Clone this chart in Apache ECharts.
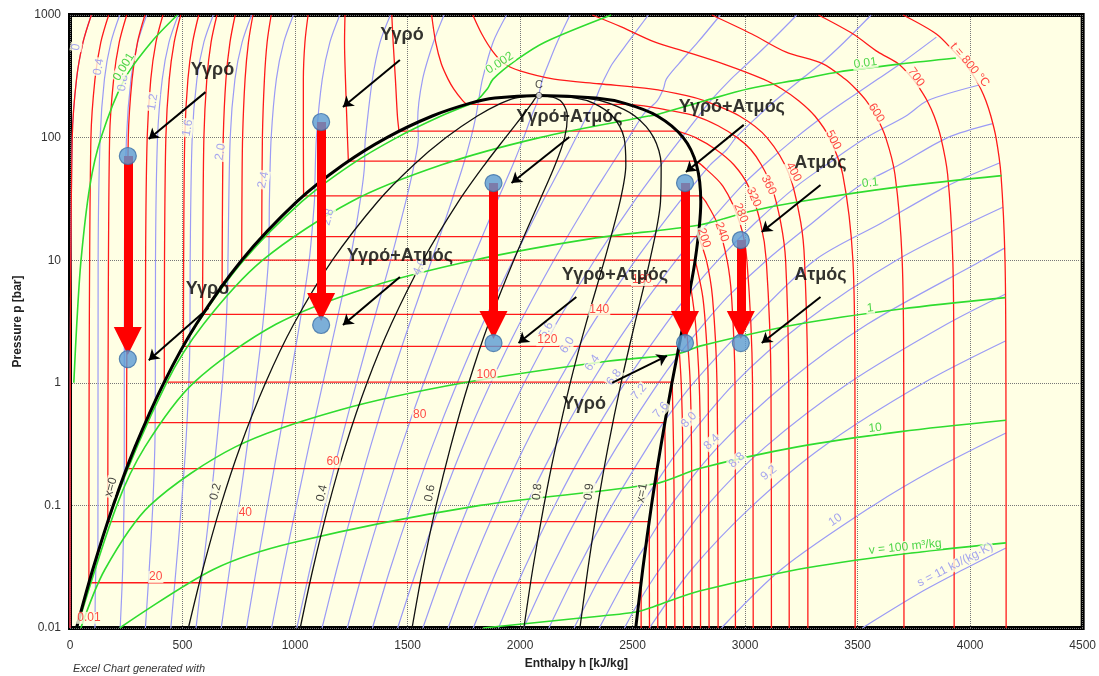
<!DOCTYPE html>
<html lang="el">
<head>
<meta charset="utf-8">
<script src="https://cdn.jsdelivr.net/npm/echarts@6/dist/echarts.min.js"></script>
<style>
  * { margin: 0; padding: 0; }
  body { background: #fff; }
</style>
</head>
<body>
<div id="main" style="width:1099px;height:676px;"></div>
<script>
// p-h diagram of water: points are [h kJ/kg, p bar]

// saturation dome (x=0 up to C, then x=1 down)
var dome = [[29,0.01],[101,0.03],[192,0.1],[289,0.3],[417,1],[561,3],[763,10],[1008,30],[1214,60],[1408,100],[1610,150],[1776,190],[1888,210],[2084,220.6],
            [2338,210],[2466,190],[2610,150],[2725,100],[2784,60],[2803,30],[2778,10],[2725,3],[2675,1],[2625,0.3],[2584,0.1],[2545,0.03],[2514,0.01]];
var critical = [2084, 220.6];

// quality lines
var x02 = [[526,0.01],[590,0.03],[670,0.1],[756,0.3],[869,1],[994,3],[1166,10],[1367,30],[1528,60],[1671,100],[1810,150],[1914,190],[1978,210],[2084,220.6]];
var x04 = [[1023,0.01],[1079,0.03],[1149,0.1],[1223,0.3],[1320,1],[1427,3],[1569,10],[1726,30],[1842,60],[1935,100],[2010,150],[2052,190],[2068,210],[2084,220.6]];
var x06 = [[1520,0.01],[1567,0.03],[1627,0.1],[1691,0.3],[1772,1],[1859,3],[1972,10],[2085,30],[2156,60],[2198,100],[2210,150],[2190,190],[2158,210],[2084,220.6]];
var x08 = [[2017,0.01],[2056,0.03],[2106,0.1],[2158,0.3],[2223,1],[2292,3],[2375,10],[2444,30],[2470,60],[2462,100],[2410,150],[2328,190],[2248,210],[2084,220.6]];
var x09 = [[2266,0.01],[2301,0.03],[2345,0.1],[2391,0.3],[2449,1],[2509,3],[2577,10],[2624,30],[2627,60],[2594,100],[2510,150],[2397,190],[2293,210],[2084,220.6]];

// isotherms (liquid / two-phase / vapour pieces)
var t000 = [[[95,1000],[58,600],[29,300],[10,100],[1,1],[0,0.01]]];
var t020 = [[[172,1000],[137,600],[111,300],[93,100],[85,1],[84,0.0234]],[[84,0.0234],[2538,0.0234]],[[2538,0.0234],[2538,0.01]]];
var t040 = [[[252,1000],[219,600],[194,300],[176,100],[169,1],[168,0.0738]],[[168,0.0738],[2574,0.0738]],[[2574,0.0738],[2575,0.01]]];
var t060 = [[[333,1000],[300,600],[276,300],[259,100],[252,1],[251,0.1995]],[[251,0.1995],[2609,0.1995]],[[2609,0.1995],[2611,0.05],[2612,0.01]]];
var t080 = [[[413,1000],[382,600],[359,300],[343,100],[336,10],[335,0.474]],[[335,0.474],[2643,0.474]],[[2643,0.474],[2648,0.1],[2650,0.01]]];
var t100 = [[[492,1000],[463,600],[441,300],[426,100],[420,10],[419,1.014]],[[419,1.014],[2676,1.014]],[[2676,1.014],[2682,0.3],[2686,0.05],[2688,0.01]]];
var t120 = [[[572,1000],[545,600],[524,300],[510,100],[505,10],[504,1.985]],[[504,1.985],[2706,1.985]],[[2706,1.985],[2716,1],[2723,0.3],[2726,0.01]]];
var t140 = [[[653,1000],[627,600],[608,300],[595,100],[590,10],[589,3.614]],[[589,3.614],[2734,3.614]],[[2734,3.614],[2746,2],[2756,1],[2762,0.3],[2764,0.01]]];
var t160 = [[[734,1000],[711,600],[693,300],[681,100],[677,20],[676,6.18]],[[676,6.18],[2758,6.18]],[[2758,6.18],[2780,3],[2796,1],[2801,0.3],[2802,0.01]]];
var t180 = [[[813,1000],[793,600],[778,300],[767,100],[764,30],[763,10.03]],[[763,10.03],[2778,10.03]],[[2778,10.03],[2812,5],[2830,2],[2836,1],[2840,0.01]]];
var t200 = [[[894,1000],[876,600],[864,300],[855,100],[852,15.55]],[[852,15.55],[2793,15.55]],[[2793,15.55],[2828,10],[2855,5],[2875,1],[2880,0.01]]];
var t240 = [[[1058,1000],[1044,600],[1037,300],[1037,100],[1038,33.5]],[[1038,33.5],[2804,33.5]],[[2804,33.5],[2825,30],[2876,20],[2920,10],[2940,5],[2955,1],[2957,0.01]]];
var t280 = [[[1222,1000],[1220,600],[1224,300],[1233,100],[1237,64.2]],[[1237,64.2],[2780,64.2]],[[2780,64.2],[2805,60],[2902,40],[2977,20],[3008,10],[3033,1],[3036,0.01]]];
var t320 = [[[1430,1000],[1436,600],[1446,300],[1455,150],[1462,112.9]],[[1462,112.9],[2701,112.9]],[[2701,112.9],[2780,100],[2870,80],[2950,60],[3015,40],[3069,20],[3094,10],[3115,1],[3117,0.01]]];
var t360 = [[[1607,1000],[1625,600],[1650,400],[1680,300],[1705,250],[1745,200],[1762,186.7]],[[1762,186.7],[2481,186.7]],
            [[2481,186.7],[2565,180],[2640,170],[2780,150],[2880,125],[2965,100],[3025,80],[3072,60],[3118,40],[3159,20],[3180,10],[3194,1],[3196,0.01]]];
var t400 = [[[1790,1000],[1830,700],[1880,500],[1930,400],[2000,350],[2151,300],[2350,275],[2580,250],[2740,220],[2818,200],[2975,150],[3097,100],[3196,50],[3248,20],[3264,10],[3278,1],[3279,0.01]]];
var t500 = [[[2321,1000],[2450,800],[2600,600],[2740,500],[2903,400],[3081,300],[3162,250],[3238,200],[3310,150],[3374,100],[3434,50],[3479,10],[3488,1],[3489,0.01]]];
var t600 = [[[2852,1000],[3030,700],[3180,500],[3346,400],[3444,300],[3491,250],[3538,200],[3582,150],[3625,100],[3666,50],[3698,10],[3705,1],[3706,0.01]]];
var t700 = [[[3326,1000],[3480,700],[3590,500],[3681,400],[3746,300],[3777,250],[3809,200],[3840,150],[3870,100],[3900,50],[3923,10],[3928,1],[3929,0.01]]];
var t800 = [[[3702,1000],[3850,700],[3930,500],[3979,400],[4024,300],[4047,250],[4070,200],[4092,150],[4115,100],[4137,50],[4155,10],[4159,1],[4160,0.01]]];

// isentropes, kJ/(kg K)
var s00 = [[95,1000],[58,600],[29,300],[10,100],[1,1],[0,0.01]];
var s04 = [[221,1000],[182,600],[153,300],[134,100],[125,10],[124,0.041],[115,0.03],[111,0.01]];
var s08 = [[341,1000],[301,600],[271,300],[251,100],[242,10],[241,0.175],[240,0.1],[234,0.03],[223,0.01]];
var s12 = [[481,1000],[440,600],[410,300],[389,100],[380,10],[379,0.71],[377,0.3],[368,0.1],[352,0.03],[335,0.01]];
var s16 = [[637,1000],[595,600],[564,300],[543,100],[534,10],[533,2.4],[528,1],[514,0.3],[495,0.1],[471,0.03],[448,0.01]];
var s20 = [[807,1000],[765,600],[733,300],[712,100],[702,10],[701,7.1],[694,3],[677,1],[650,0.3],[623,0.1],[590,0.03],[560,0.01]];
var s24 = [[993,1000],[950,600],[917,300],[894,100],[886,30],[885,18],[882,10],[857,3],[826,1],[787,0.3],[751,0.1],[709,0.03],[672,0.01]];
var s28 = [[1199,1000],[1155,600],[1121,300],[1095,100],[1088,40],[1086,30],[1063,10],[1020,3],[975,1],[924,0.3],[878,0.1],[828,0.03],[784,0.01]];
var s32 = [[1424,1000],[1378,600],[1344,300],[1313,100],[1310,79],[1309,60],[1289,30],[1244,10],[1182,3],[1124,1],[1061,0.3],[1006,0.1],[947,0.03],[896,0.01]];
var s36 = [[1662,1000],[1615,600],[1567,300],[1545,137],[1548,100],[1529,60],[1492,30],[1425,10],[1345,3],[1273,1],[1198,0.3],[1133,0.1],[1066,0.03],[1008,0.01]];
var s40 = [[1940,1000],[1880,600],[1833,300],[1815,197],[1804,150],[1782,100],[1748,60],[1695,30],[1607,10],[1508,3],[1422,1],[1335,0.3],[1261,0.1],[1185,0.03],[1120,0.01]];
var s44 = [[2222,1000],[2165,600],[2126,400],[2100,300],[2081,215],[2074,190],[2051,150],[2016,100],[1968,60],[1897,30],[1788,10],[1671,3],[1572,1],[1472,0.3],[1389,0.1],[1304,0.03],[1232,0.01]];
var s48 = [[2570,1000],[2480,600],[2410,400],[2374,300],[2354,250],[2338,210],[2328,190],[2297,150],[2249,100],[2187,60],[2100,30],[1969,10],[1833,3],[1721,1],[1609,0.3],[1516,0.1],[1422,0.03],[1344,0.01]];
var s52 = [[2890,1000],[2790,600],[2705,400],[2650,300],[2637,250],[2610,200],[2562,165],[2543,150],[2483,100],[2407,60],[2303,30],[2150,10],[1996,3],[1870,1],[1745,0.3],[1644,0.1],[1541,0.03],[1456,0.01]];
var s56 = [[3230,1000],[3110,600],[3010,400],[2937,300],[2847,200],[2793,150],[2722,102],[2626,60],[2506,30],[2331,10],[2159,3],[2019,1],[1882,0.3],[1771,0.1],[1660,0.03],[1568,0.01]];
var s60 = [[3560,1000],[3440,600],[3336,400],[3250,300],[3133,200],[3058,150],[2959,100],[2919,80],[2845,60],[2797,47],[2709,30],[2513,10],[2321,3],[2168,1],[2019,0.3],[1899,0.1],[1779,0.03],[1680,0.01]];
var s64 = [[3850,660],[3690,400],[3590,300],[3447,200],[3350,150],[3226,100],[3085,60],[2983,40],[2836,20],[2793,16.5],[2694,10],[2484,3],[2317,1],[2156,0.3],[2027,0.1],[1898,0.03],[1792,0.01]];
var s68 = [[4045,270],[3810,200],[3715,150],[3539,100],[3361,60],[3228,40],[3043,20],[2880,10],[2750,5.3],[2647,3],[2466,1],[2293,0.3],[2154,0.1],[2017,0.03],[1904,0.01]];
var s72 = [[4100,130],[3900,100],[3685,60],[3503,40],[3297,20],[3096,10],[2921,5],[2815,3],[2695,1.6],[2615,1],[2430,0.3],[2282,0.1],[2136,0.03],[2016,0.01]];
var s76 = [[4130,62],[3895,40],[3604,20],[3310,10],[3012,3],[2771,1],[2646,0.5],[2567,0.3],[2409,0.1],[2255,0.03],[2128,0.01]];
var s80 = [[4145,27],[3673,10],[3250,3],[2955,1],[2715,0.3],[2596,0.145],[2537,0.1],[2373,0.03],[2240,0.01]];
var s84 = [[4155,12.6],[4055,10],[3543,3],[3185,1],[2880,0.3],[2670,0.1],[2560,0.048],[2492,0.03],[2352,0.01]];
var s88 = [[4158,5.3],[3895,3],[3463,1],[3090,0.3],[2832,0.1],[2620,0.03],[2525,0.016],[2464,0.01]];
var s92 = [[4159,2.2],[3795,1],[3345,0.3],[3034,0.1],[2762,0.03],[2575,0.01]];
var s100 = [[4159,0.39],[3848,0.2],[3570,0.1],[3160,0.03],[2895,0.01]];
var s110 = [[4159,0.045],[3970,0.03],[3790,0.02],[3521,0.01]];

// isochores, m3/kg
var v0001 = [[17,1],[30,3],[49,10],[88,40],[138,100],[242,300],[361,600],[477,1000]];
var v0002 = [[29,0.01],[192,0.1],[418,1],[564,3],[772,10],[1030,30],[1248,60],[1452,100],[1649,150],[1786,190],[1800,193],[1855,250],[1880,300],[1984,430],[2110,600],[2405,1000]];
var v001 = [[29,0.01],[194,0.1],[429,1],[593,3],[856,10],[1249,30],[1652,60],[2087,100],[2571,150],[2595,152],[2822,200],[3016,250],[3253,300],[3414,343],[3697,400],[3937,446]];
var v01 = [[31,0.01],[208,0.1],[333,0.3],[549,1],[915,3],[1326,6],[1794,10],[2318,15],[2798,19.4],[3020,25],[3239,30],[3700,40],[4140,49]];
var v1 = [[48,0.01],[155,0.03],[355,0.1],[735,0.3],[1199,0.6],[1749,1],[2387,1.5],[2700,1.72],[2803,2],[3235,3],[3693,4],[4157,4.95]];
var v10 = [[221,0.01],[637,0.03],[997,0.05],[1822,0.1],[2598,0.15],[2797,0.2],[3232,0.3],[3692,0.4],[4159,0.495]];
var v100 = [[1835,0.01],[2258,0.012],[2515,0.0135],[2596,0.015],[2797,0.02],[3232,0.03],[3692,0.04],[4159,0.0495]];

// process points and arrows
var states = [[257,70.8],[257,1.56],[1116,134],[1116,2.96],[1882,42.6],[1882,2.11],[2733,42.6],[2733,2.11],[2981,14.6],[2981,2.11]];
var drops = [[[257,70.8],[257,2.19]],[[1116,134],[1116,4.15]],[[1882,42.6],[1882,2.96]],[[2733,42.6],[2733,2.96]],[[2981,14.6],[2981,2.96]]];
var pointers = [[[602,235],[350,97.5]],[[1466,429],[1213,178]],[[2219,101],[1962,42.7]],[[2994,127],[2737,52.4]],[[3335,41],[3074,17]],
                [[615,4.07],[350,1.53]],[[1466,7.3],[1213,2.96]],[[2250,5.01],[1993,2.11]],[[3335,5.01],[3074,2.11]],[[2409,1.0],[2653,1.66]]];
var phaseNames = [['Υγρό',633,356],['Υγρό',1475,687],['Υγρό+Ατμός',2219,147],['Υγρό+Ατμός',2941,178],['Ατμός',3335,62],
                  ['Υγρό',611,5.82],['Υγρό+Ατμός',1466,10.8],['Υγρό+Ατμός',2422,7.57],['Ατμός',3335,7.57],['Υγρό',2285,0.671]];

// curve labels: text, h, p, rotation
var tLabels = [['0.01',84,0.0121,0],['20',381,0.026,0],['40',779,0.0867,0],['60',1169,0.226,0],['80',1554,0.546,0],['100',1851,1.16,0],
               ['120',2121,2.23,0],['140',2352,3.93,0],['160',2542,6.89,0],['200',2817,15.2,-72],['240',2896,17.0,-70],['280',2981,24.3,-68],
               ['320',3038,32.7,-66],['360',3105,41,-64],['400',3215,52.4,-62],['500',3392,95.5,-62],['600',3583,159,-58],['700',3760,312,-55],['t = 800 °C',3999,391,-50]];
var sLabels = [['0',27,548,80],['0.4',128,377,80],['0.8',235,279,80],['1.2',368,195,80],['1.6',523,120,80],['2.0',669,76.4,80],['2.4',859,45.1,78],
               ['2.8',1147,22.5,75],['4.0',1554,8.79,65],['5.6',2117,2.7,60],['6.0',2210,2.03,58],['6.4',2321,1.45,55],['6.8',2418,1.11,53],
               ['7.2',2529,0.841,50],['7.6',2626,0.6,48],['8.0',2750,0.498,46],['8.4',2852,0.329,44],['8.8',2963,0.234,42],['9.2',3105,0.184,40],
               ['10',3401,0.076,35],['s = 11 kJ/(kg·K)',3933,0.0327,27]];
var vLabels = [['0.001',239,377,58],['0.002',1909,405,33],['0.01',3534,405,8],['0.1',3556,42.7,6],['1',3556,4.07,6],['10',3578,0.428,6],['v = 100 m³/kg',3711,0.0458,6]];
var xLabels = [['x=0',182,0.141,75],['0.2',647,0.129,75],['0.4',1120,0.126,78],['0.6',1599,0.126,80],['0.8',2077,0.129,84],['0.9',2307,0.129,84],['x=1',2542,0.126,80]];

var RED = '#ff1a1a', BLUE = '#9b9bf5', GREEN = '#2fdc2f', PAPER = '#ffffe4';
var FONT = 'Liberation Sans';

var chart = echarts.init(document.getElementById('main'));
var series = [];

function addCurve(segs, color, width, z) {
    segs.forEach(function (pts) {
        series.push({
            type: 'line', data: pts, smooth: pts.length > 2 ? 0.3 : false,
            symbol: 'none', silent: true, z: z,
            lineStyle: { color: color, width: width }
        });
    });
}
function addLabels(list, color, size, z) {
    series.push({
        type: 'scatter', silent: true, symbolSize: 1, z: z,
        itemStyle: { color: 'rgba(0,0,0,0)' },
        data: list.map(function (l) {
            return { name: l[0], value: [l[1], l[2]], label: { rotate: l[3] || 0 } };
        }),
        label: {
            show: true, position: 'inside', formatter: '{b}', color: color,
            fontSize: size, fontFamily: FONT, backgroundColor: PAPER, padding: [0, 1],
            textBorderWidth: 0
        }
    });
}

[s00, s04, s08, s12, s16, s20, s24, s28, s32, s36, s40, s44, s48, s52, s56, s60, s64, s68, s72, s76, s80, s84, s88, s92, s100, s110]
    .forEach(function (c) { addCurve([c], BLUE, 1.2, 2); });
[t000, t020, t040, t060, t080, t100, t120, t140, t160, t180, t200, t240, t280, t320, t360, t400, t500, t600, t700, t800]
    .forEach(function (c) { addCurve(c, RED, 1.3, 3); });
[v0001, v0002, v001, v01, v1, v10, v100].forEach(function (c) { addCurve([c], GREEN, 1.6, 4); });
[x02, x04, x06, x08, x09].forEach(function (c) { addCurve([c], '#111', 1.3, 5); });
addCurve([dome], '#000', 3, 5);

addLabels(sLabels, '#8f8ff0', 12, 6);
addLabels(tLabels, RED, 12, 6);
addLabels(vLabels, '#22cc22', 12, 6);
addLabels(xLabels, '#111', 12, 6);

// critical point
series.push({
    type: 'scatter', silent: true, z: 7, symbolSize: 6, data: [critical],
    itemStyle: { color: '#fff', borderColor: '#333', borderWidth: 1 },
    label: { show: true, position: 'top', distance: 2, formatter: 'C', color: '#222', fontSize: 11, fontFamily: FONT, textBorderWidth: 0 }
});

// vertical drops (red arrows)
series.push({
    type: 'lines', coordinateSystem: 'cartesian2d', silent: true, z: 10,
    symbol: ['none', 'triangle'], symbolSize: 28,
    lineStyle: { color: '#ff0000', width: 9, opacity: 1 },
    data: drops.map(function (d) { return { coords: d }; })
});
// pointer arrows
series.push({
    type: 'lines', coordinateSystem: 'cartesian2d', silent: true, z: 10,
    symbol: ['none', 'arrow'], symbolSize: 10,
    lineStyle: { color: '#000', width: 2, opacity: 1 },
    data: pointers.map(function (d) { return { coords: d }; })
});
// state points
series.push({
    type: 'scatter', silent: true, z: 12, symbolSize: 17, data: states,
    itemStyle: { color: '#5b9bd5', borderColor: '#3c6fa6', borderWidth: 1.2 }
});
// phase names
series.push({
    type: 'scatter', silent: true, z: 13, symbolSize: 1,
    itemStyle: { color: 'rgba(0,0,0,0)' },
    data: phaseNames.map(function (l) { return { name: l[0], value: [l[1], l[2]] }; }),
    label: {
        show: true, position: 'inside', formatter: '{b}', color: '#000', fontSize: 18,
        fontWeight: 'bold', fontFamily: FONT, textBorderWidth: 0
    }
});

var option = {
    animation: false,
    title: {
        text: 'Excel Chart generated with', left: 68, top: 658,
        textStyle: { fontSize: 11, fontStyle: 'italic', fontWeight: 'normal', color: '#333', fontFamily: FONT }
    },
    grid: {
        left: 70, right: 16, top: 15, bottom: 48, show: true,
        backgroundColor: PAPER, borderColor: '#000', borderWidth: 4
    },
    xAxis: {
        type: 'value', min: 0, max: 4500, interval: 500,
        name: 'Enthalpy h [kJ/kg]', nameLocation: 'middle', nameGap: 30,
        nameTextStyle: { fontSize: 12, fontWeight: 'bold', color: '#222', fontFamily: FONT },
        axisLine: { show: false }, axisTick: { show: false },
        axisLabel: {
            margin: 12, fontSize: 12, color: '#333', fontFamily: FONT,
            formatter: function (v) { return String(v); }
        },
        splitLine: { show: true, lineStyle: { type: 'dotted', color: '#777', width: 1 } }
    },
    yAxis: {
        type: 'log', logBase: 10, min: 0.01, max: 1000,
        name: 'Pressure p [bar]', nameLocation: 'middle', nameGap: 46, nameRotate: 90,
        nameTextStyle: { fontSize: 12, fontWeight: 'bold', color: '#222', fontFamily: FONT },
        axisLine: { show: false }, axisTick: { show: false },
        axisLabel: {
            margin: 9, fontSize: 12, color: '#333', fontFamily: FONT,
            formatter: function (v) { return String(+(+v).toPrecision(4)); }
        },
        splitLine: { show: true, lineStyle: { type: 'dotted', color: '#777', width: 1 } }
    },
    series: series
};
chart.setOption(option);
</script>
</body>
</html>
